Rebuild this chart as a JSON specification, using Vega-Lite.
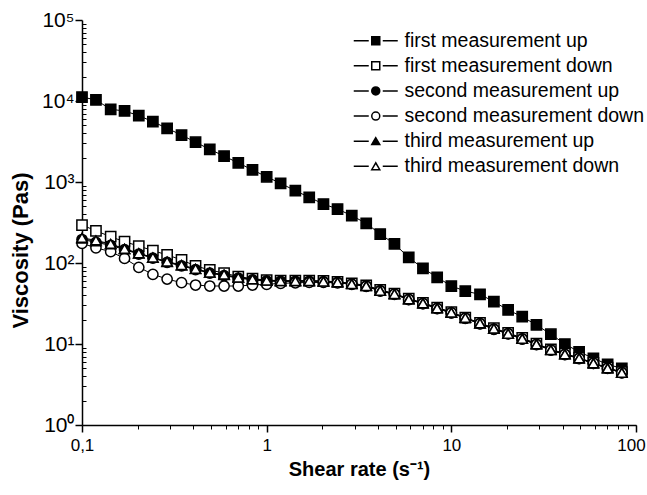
{
  "$schema": "https://vega.github.io/schema/vega-lite/v6.json",
  "width": 554,
  "height": 405,
  "autosize": {"type": "none"},
  "padding": {"left": 82, "top": 20, "right": 11, "bottom": 70},
  "config": {
    "view": {"stroke": null},
    "font": "Liberation Sans",
    "axis": {"grid": false, "domainColor": "black", "tickColor": "black", "labelColor": "black", "titleColor": "black", "labelFont": "Liberation Sans", "titleFont": "Liberation Sans", "labelOverlap": false}
  },
  "datasets": {
    "d": [
      {"series":"first measurement up","shear":0.1,"visc":11200},{"series":"first measurement up","shear":0.119,"visc":10300},{"series":"first measurement up","shear":0.143,"visc":7900},{"series":"first measurement up","shear":0.17,"visc":7530},{"series":"first measurement up","shear":0.203,"visc":6600},{"series":"first measurement up","shear":0.242,"visc":5550},{"series":"first measurement up","shear":0.289,"visc":4600},{"series":"first measurement up","shear":0.346,"visc":3800},{"series":"first measurement up","shear":0.412,"visc":3100},{"series":"first measurement up","shear":0.492,"visc":2530},{"series":"first measurement up","shear":0.588,"visc":2090},{"series":"first measurement up","shear":0.702,"visc":1720},{"series":"first measurement up","shear":0.838,"visc":1410},{"series":"first measurement up","shear":1,"visc":1160},{"series":"first measurement up","shear":1.19,"visc":962},{"series":"first measurement up","shear":1.43,"visc":781},{"series":"first measurement up","shear":1.7,"visc":647},{"series":"first measurement up","shear":2.03,"visc":535},{"series":"first measurement up","shear":2.42,"visc":464},{"series":"first measurement up","shear":2.89,"visc":384},{"series":"first measurement up","shear":3.46,"visc":309},{"series":"first measurement up","shear":4.12,"visc":228},{"series":"first measurement up","shear":4.92,"visc":172},{"series":"first measurement up","shear":5.88,"visc":117},{"series":"first measurement up","shear":7.02,"visc":86},{"series":"first measurement up","shear":8.38,"visc":66.6},{"series":"first measurement up","shear":10,"visc":52},{"series":"first measurement up","shear":11.9,"visc":45},{"series":"first measurement up","shear":14.3,"visc":41},{"series":"first measurement up","shear":17,"visc":33.3},{"series":"first measurement up","shear":20.3,"visc":26.3},{"series":"first measurement up","shear":24.2,"visc":21.7},{"series":"first measurement up","shear":28.9,"visc":17.2},{"series":"first measurement up","shear":34.6,"visc":13.2},{"series":"first measurement up","shear":41.2,"visc":10},{"series":"first measurement up","shear":49.2,"visc":8},{"series":"first measurement up","shear":58.8,"visc":6.66},{"series":"first measurement up","shear":70.2,"visc":5.6},{"series":"first measurement up","shear":83.8,"visc":5.0},

      {"series":"first measurement down","shear":0.1,"visc":294},{"series":"first measurement down","shear":0.119,"visc":250},{"series":"first measurement down","shear":0.143,"visc":211},{"series":"first measurement down","shear":0.17,"visc":183},{"series":"first measurement down","shear":0.203,"visc":162},{"series":"first measurement down","shear":0.242,"visc":142},{"series":"first measurement down","shear":0.289,"visc":126},{"series":"first measurement down","shear":0.346,"visc":109},{"series":"first measurement down","shear":0.412,"visc":92},{"series":"first measurement down","shear":0.492,"visc":82},{"series":"first measurement down","shear":0.588,"visc":75},{"series":"first measurement down","shear":0.702,"visc":68},{"series":"first measurement down","shear":0.838,"visc":64},{"series":"first measurement down","shear":1,"visc":61.5},{"series":"first measurement down","shear":1.19,"visc":60.5},{"series":"first measurement down","shear":1.43,"visc":60.5},{"series":"first measurement down","shear":1.7,"visc":60.5},{"series":"first measurement down","shear":2.03,"visc":60},{"series":"first measurement down","shear":2.42,"visc":58.5},{"series":"first measurement down","shear":2.89,"visc":56},{"series":"first measurement down","shear":3.46,"visc":53},{"series":"first measurement down","shear":4.12,"visc":46.5},{"series":"first measurement down","shear":4.92,"visc":42},{"series":"first measurement down","shear":5.88,"visc":36.2},{"series":"first measurement down","shear":7.02,"visc":32.3},{"series":"first measurement down","shear":8.38,"visc":28.2},{"series":"first measurement down","shear":10,"visc":24.8},{"series":"first measurement down","shear":11.9,"visc":21.2},{"series":"first measurement down","shear":14.3,"visc":18.2},{"series":"first measurement down","shear":17,"visc":15.7},{"series":"first measurement down","shear":20.3,"visc":13.7},{"series":"first measurement down","shear":24.2,"visc":11.9},{"series":"first measurement down","shear":28.9,"visc":10.1},{"series":"first measurement down","shear":34.6,"visc":8.6},{"series":"first measurement down","shear":41.2,"visc":7.6},{"series":"first measurement down","shear":49.2,"visc":6.75},{"series":"first measurement down","shear":58.8,"visc":5.85},{"series":"first measurement down","shear":70.2,"visc":5.1},{"series":"first measurement down","shear":83.8,"visc":4.5},

      {"series":"second measurement up","shear":0.1,"visc":195},{"series":"second measurement up","shear":0.119,"visc":180},{"series":"second measurement up","shear":0.143,"visc":165},{"series":"second measurement up","shear":0.17,"visc":146},{"series":"second measurement up","shear":0.203,"visc":129},{"series":"second measurement up","shear":0.242,"visc":115},{"series":"second measurement up","shear":0.289,"visc":102},{"series":"second measurement up","shear":0.346,"visc":92},{"series":"second measurement up","shear":0.412,"visc":83},{"series":"second measurement up","shear":0.492,"visc":75},{"series":"second measurement up","shear":0.588,"visc":70},{"series":"second measurement up","shear":0.702,"visc":65},{"series":"second measurement up","shear":0.838,"visc":62},{"series":"second measurement up","shear":1,"visc":60},{"series":"second measurement up","shear":1.19,"visc":59.5},{"series":"second measurement up","shear":1.43,"visc":59.5},{"series":"second measurement up","shear":1.7,"visc":59.5},{"series":"second measurement up","shear":2.03,"visc":59},{"series":"second measurement up","shear":2.42,"visc":57.5},{"series":"second measurement up","shear":2.89,"visc":55},{"series":"second measurement up","shear":3.46,"visc":52},{"series":"second measurement up","shear":4.12,"visc":45.5},{"series":"second measurement up","shear":4.92,"visc":41.2},{"series":"second measurement up","shear":5.88,"visc":35.5},{"series":"second measurement up","shear":7.02,"visc":31.6},{"series":"second measurement up","shear":8.38,"visc":27.5},{"series":"second measurement up","shear":10,"visc":24.3},{"series":"second measurement up","shear":11.9,"visc":20.8},{"series":"second measurement up","shear":14.3,"visc":17.8},{"series":"second measurement up","shear":17,"visc":15.3},{"series":"second measurement up","shear":20.3,"visc":13.4},{"series":"second measurement up","shear":24.2,"visc":11.6},{"series":"second measurement up","shear":28.9,"visc":9.9},{"series":"second measurement up","shear":34.6,"visc":8.45},{"series":"second measurement up","shear":41.2,"visc":7.45},{"series":"second measurement up","shear":49.2,"visc":6.65},{"series":"second measurement up","shear":58.8,"visc":5.78},{"series":"second measurement up","shear":70.2,"visc":5.02},{"series":"second measurement up","shear":83.8,"visc":4.42},

      {"series":"second measurement down","shear":0.1,"visc":175},{"series":"second measurement down","shear":0.119,"visc":154},{"series":"second measurement down","shear":0.143,"visc":138},{"series":"second measurement down","shear":0.17,"visc":114},{"series":"second measurement down","shear":0.203,"visc":88.5},{"series":"second measurement down","shear":0.242,"visc":72.5},{"series":"second measurement down","shear":0.289,"visc":63.4},{"series":"second measurement down","shear":0.346,"visc":57.1},{"series":"second measurement down","shear":0.412,"visc":53.5},{"series":"second measurement down","shear":0.492,"visc":52},{"series":"second measurement down","shear":0.588,"visc":52},{"series":"second measurement down","shear":0.702,"visc":52},{"series":"second measurement down","shear":0.838,"visc":53.5},{"series":"second measurement down","shear":1,"visc":54.6},{"series":"second measurement down","shear":1.19,"visc":56},{"series":"second measurement down","shear":1.43,"visc":57},{"series":"second measurement down","shear":1.7,"visc":57.5},{"series":"second measurement down","shear":2.03,"visc":57.5},{"series":"second measurement down","shear":2.42,"visc":57},{"series":"second measurement down","shear":2.89,"visc":54.5},{"series":"second measurement down","shear":3.46,"visc":51.5},{"series":"second measurement down","shear":4.12,"visc":45},{"series":"second measurement down","shear":4.92,"visc":41},{"series":"second measurement down","shear":5.88,"visc":35.3},{"series":"second measurement down","shear":7.02,"visc":31.5},{"series":"second measurement down","shear":8.38,"visc":27.3},{"series":"second measurement down","shear":10,"visc":24.2},{"series":"second measurement down","shear":11.9,"visc":20.7},{"series":"second measurement down","shear":14.3,"visc":17.7},{"series":"second measurement down","shear":17,"visc":15.2},{"series":"second measurement down","shear":20.3,"visc":13.3},{"series":"second measurement down","shear":24.2,"visc":11.5},{"series":"second measurement down","shear":28.9,"visc":9.8},{"series":"second measurement down","shear":34.6,"visc":8.4},{"series":"second measurement down","shear":41.2,"visc":7.4},{"series":"second measurement down","shear":49.2,"visc":6.6},{"series":"second measurement down","shear":58.8,"visc":5.75},{"series":"second measurement down","shear":70.2,"visc":5.0},{"series":"second measurement down","shear":83.8,"visc":4.4},

      {"series":"third measurement up","shear":0.1,"visc":200},{"series":"third measurement up","shear":0.119,"visc":185},{"series":"third measurement up","shear":0.143,"visc":170},{"series":"third measurement up","shear":0.17,"visc":148},{"series":"third measurement up","shear":0.203,"visc":131},{"series":"third measurement up","shear":0.242,"visc":116},{"series":"third measurement up","shear":0.289,"visc":103},{"series":"third measurement up","shear":0.346,"visc":93},{"series":"third measurement up","shear":0.412,"visc":84},{"series":"third measurement up","shear":0.492,"visc":76},{"series":"third measurement up","shear":0.588,"visc":71},{"series":"third measurement up","shear":0.702,"visc":66},{"series":"third measurement up","shear":0.838,"visc":63},{"series":"third measurement up","shear":1,"visc":60.5},{"series":"third measurement up","shear":1.19,"visc":60},{"series":"third measurement up","shear":1.43,"visc":60},{"series":"third measurement up","shear":1.7,"visc":60},{"series":"third measurement up","shear":2.03,"visc":59.5},{"series":"third measurement up","shear":2.42,"visc":58},{"series":"third measurement up","shear":2.89,"visc":55.5},{"series":"third measurement up","shear":3.46,"visc":52.5},{"series":"third measurement up","shear":4.12,"visc":46},{"series":"third measurement up","shear":4.92,"visc":41.5},{"series":"third measurement up","shear":5.88,"visc":36},{"series":"third measurement up","shear":7.02,"visc":32},{"series":"third measurement up","shear":8.38,"visc":28},{"series":"third measurement up","shear":10,"visc":24.5},{"series":"third measurement up","shear":11.9,"visc":21},{"series":"third measurement up","shear":14.3,"visc":18},{"series":"third measurement up","shear":17,"visc":15.5},{"series":"third measurement up","shear":20.3,"visc":13.5},{"series":"third measurement up","shear":24.2,"visc":11.7},{"series":"third measurement up","shear":28.9,"visc":10},{"series":"third measurement up","shear":34.6,"visc":8.5},{"series":"third measurement up","shear":41.2,"visc":7.5},{"series":"third measurement up","shear":49.2,"visc":6.7},{"series":"third measurement up","shear":58.8,"visc":5.8},{"series":"third measurement up","shear":70.2,"visc":5.05},{"series":"third measurement up","shear":83.8,"visc":4.45},

      {"series":"third measurement down","shear":0.1,"visc":205},{"series":"third measurement down","shear":0.119,"visc":190},{"series":"third measurement down","shear":0.143,"visc":172},{"series":"third measurement down","shear":0.17,"visc":150},{"series":"third measurement down","shear":0.203,"visc":132},{"series":"third measurement down","shear":0.242,"visc":117},{"series":"third measurement down","shear":0.289,"visc":104},{"series":"third measurement down","shear":0.346,"visc":94.5},{"series":"third measurement down","shear":0.412,"visc":84.7},{"series":"third measurement down","shear":0.492,"visc":76.4},{"series":"third measurement down","shear":0.588,"visc":71.8},{"series":"third measurement down","shear":0.702,"visc":66.2},{"series":"third measurement down","shear":0.838,"visc":63.1},{"series":"third measurement down","shear":1,"visc":60.5},{"series":"third measurement down","shear":1.19,"visc":59.8},{"series":"third measurement down","shear":1.43,"visc":59.8},{"series":"third measurement down","shear":1.7,"visc":60},{"series":"third measurement down","shear":2.03,"visc":59.2},{"series":"third measurement down","shear":2.42,"visc":57.6},{"series":"third measurement down","shear":2.89,"visc":55},{"series":"third measurement down","shear":3.46,"visc":52},{"series":"third measurement down","shear":4.12,"visc":45.5},{"series":"third measurement down","shear":4.92,"visc":41.4},{"series":"third measurement down","shear":5.88,"visc":35.6},{"series":"third measurement down","shear":7.02,"visc":31.8},{"series":"third measurement down","shear":8.38,"visc":27.6},{"series":"third measurement down","shear":10,"visc":24.5},{"series":"third measurement down","shear":11.9,"visc":21},{"series":"third measurement down","shear":14.3,"visc":18},{"series":"third measurement down","shear":17,"visc":15.5},{"series":"third measurement down","shear":20.3,"visc":13.4},{"series":"third measurement down","shear":24.2,"visc":11.6},{"series":"third measurement down","shear":28.9,"visc":9.9},{"series":"third measurement down","shear":34.6,"visc":8.43},{"series":"third measurement down","shear":41.2,"visc":7.46},{"series":"third measurement down","shear":49.2,"visc":6.66},{"series":"third measurement down","shear":58.8,"visc":5.78},{"series":"third measurement down","shear":70.2,"visc":5.01},{"series":"third measurement down","shear":83.8,"visc":4.42}
    ]
  },
  "data": {"name": "d"},
  "resolve": {"axis": {"x": "independent", "y": "independent"}},
  "layer": [
    {
      "mark": {"type": "line", "strokeWidth": 1},
      "encoding": {
        "x": {"field": "shear", "type": "quantitative",
          "scale": {"type": "log", "domain": [0.1, 100], "nice": false},
          "axis": {"orient": "bottom", "values": [0.1, 1, 10, 100], "labelExpr": "datum.value < 0.5 ? '0,1' : datum.value > 50 ? '' : format(datum.value, '~g')",
            "title": "Shear rate (s⁻¹)", "tickSize": 7, "tickWidth": 1.5, "domainWidth": 1.5, "labelFontSize": 17, "labelPadding": 5,
            "titleFontSize": 20, "titleFontWeight": "bold", "titlePadding": 6, "labelFlush": false}},
        "y": {"field": "visc", "type": "quantitative",
          "scale": {"type": "log", "domain": [1, 100000], "nice": false},
          "axis": {"orient": "left", "values": [1, 10, 100, 1000, 10000, 100000],
            "labelExpr": "'10' + ['⁰','¹','²','³','⁴','⁵'][round(log(datum.value)/LN10)]",
            "title": "Viscosity (Pas)", "tickSize": 7, "tickWidth": 1.5, "domainWidth": 1.5, "labelFontSize": 21, "labelPadding": 1,
            "titleFontSize": 22, "titleFontWeight": "bold", "titleX": -50, "titleY": 230, "labelFlush": false}},
        "color": {"field": "series", "type": "nominal",
          "scale": {"range": ["black","black","black","black","black","black"]},
          "legend": {"orient": "none", "legendX": 284, "legendY": 11, "title": null, "padding": 0,
            "labelExpr": "'\u00a0'", "labelFontSize": 19.5, "labelOffset": 19, "labelLimit": 0,
            "symbolType": "M-5.5,0H-1.75M1.75,0H5.5", "symbolSize": 64, "symbolStrokeWidth": 1.5, "symbolStrokeColor": "black", "rowPadding": 4.1}}
      }
    },
    {
      "mark": {"type": "point", "filled": true, "stroke": "black", "strokeWidth": 1.5, "size": 105, "opacity": 1},
      "encoding": {
        "x": {"field": "shear", "type": "quantitative",
          "axis": {"orient": "bottom", "values": [0.2,0.3,0.4,0.5,0.6,0.7,0.8,0.9,2,3,4,5,6,7,8,9,20,30,40,50,60,70,80,90,100],
            "labelExpr": "datum.value > 95 ? '100' : ''", "labelOffset": -5, "labelFontSize": 17, "labelPadding": 8, "labelFlush": false,
            "domain": false, "title": null, "tickSize": 4, "tickWidth": 1}},
        "y": {"field": "visc", "type": "quantitative",
          "axis": {"orient": "left", "values": [2,3,4,5,6,7,8,9,20,30,40,50,60,70,80,90,200,300,400,500,600,700,800,900,2000,3000,4000,5000,6000,7000,8000,9000,20000,30000,40000,50000,60000,70000,80000,90000],
            "labels": false, "domain": false, "title": null, "tickSize": -4, "tickWidth": 1}},
        "shape": {"field": "series", "type": "nominal",
          "scale": {"domain": ["first measurement up","first measurement down","second measurement up","second measurement down","third measurement up","third measurement down"],
            "range": ["square","square","circle","circle","triangle-up","triangle-up"]},
          "legend": {"orient": "none", "legendX": 284, "legendY": 11, "title": null, "padding": 0,
            "labelFont": "Liberation Sans", "labelFontSize": 19.5, "labelColor": "black", "labelOffset": 19, "labelLimit": 0,
            "symbolSize": 64, "symbolStrokeWidth": 1.5, "rowPadding": 4.1,
            "encode": {"symbols": {
              "stroke": {"value": "black"},
              "strokeWidth": {"value": 1.5},
              "fill": {"value": {"expr": "indexof(datum.value,' up')>=0 ? 'black' : 'white'"}}}}}},
        "fill": {"field": "series", "type": "nominal",
          "scale": {"domain": ["first measurement up","first measurement down","second measurement up","second measurement down","third measurement up","third measurement down"],
            "range": ["black","white","black","white","black","white"]},
          "legend": null}
      }
    }
  ]
}
